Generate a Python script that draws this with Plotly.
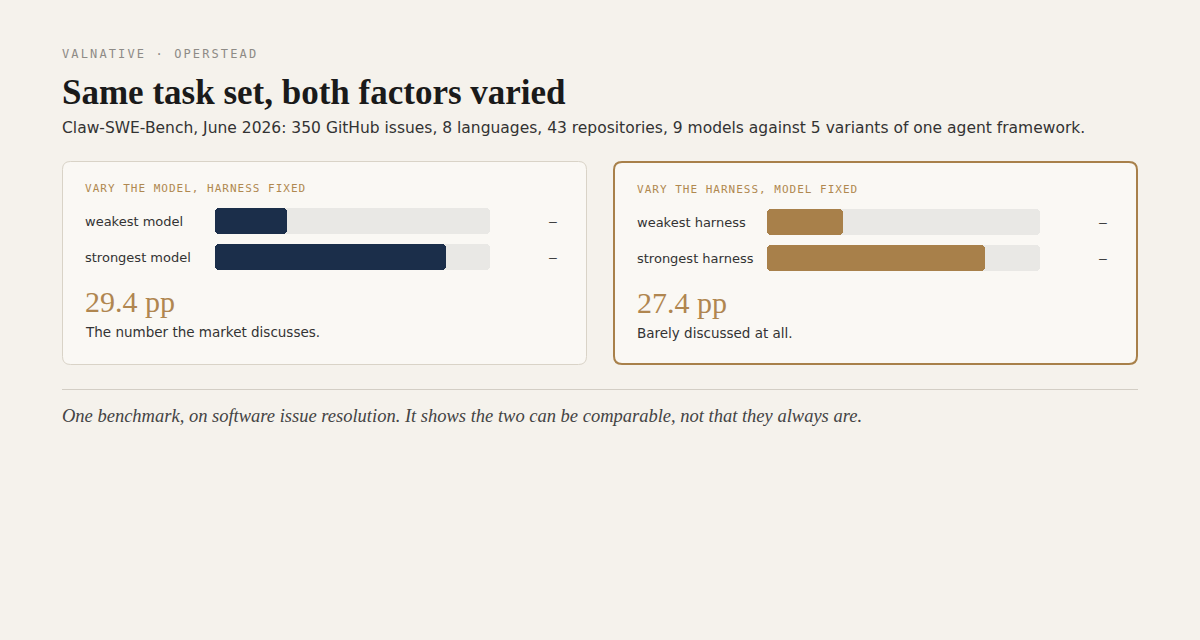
import plotly.graph_objects as go

# bar lengths (percent of the track)
model_rows = ["weakest model", "strongest model"]
model_vals = [26.2, 84.0]
harness_rows = ["weakest harness", "strongest harness"]
harness_vals = [27.8, 79.9]
value_labels = ["–", "–"]  # the source shows dashes instead of numbers
track_max = 100

model_spread = "29.4 pp"
harness_spread = "27.4 pp"
model_note = "The number the market discusses."
harness_note = "Barely discussed at all."

W, H = 1200, 640
BG = "#f5f2ec"
CARD = "#faf8f4"
NAVY = "#1b2e4a"
GOLD = "#a8804a"
TRACK = "#e9e8e5"
INK = "#333333"


def px(x):
    return x / W


def py(y):
    return 1 - y / H


def spaced(text, gap):
    # fake css letter-spacing with tiny mono spaces between characters
    sp = '<span style="font-size:%.2fpx"> </span>' % (gap / 0.602)
    return sp.join(text)


def rounded_rect(x0, y0, x1, y1, r):
    pts = [
        ("M", x0 + r, y0), ("L", x1 - r, y0), ("Q", x1, y0, x1, y0 + r),
        ("L", x1, y1 - r), ("Q", x1, y1, x1 - r, y1), ("L", x0 + r, y1),
        ("Q", x0, y1, x0, y1 - r), ("L", x0, y0 + r), ("Q", x0, y0, x0 + r, y0),
    ]
    out = ""
    for p in pts:
        coords = p[1:]
        s = []
        for i in range(0, len(coords), 2):
            s.append("%.5f,%.5f" % (px(coords[i]), py(coords[i + 1])))
        out += p[0] + " " + " ".join(s) + " "
    return out + "Z"


def pill(fig, rows, vals, color, n):
    fig.add_trace(go.Bar(y=rows, x=vals, base=[0] * len(vals),
                         orientation="h", width=0.72, marker=dict(color=color, cornerradius=4, line_width=0),
                         xaxis="x" + n, yaxis="y" + n, hoverinfo="skip", showlegend=False, cliponaxis=False))


fig = go.Figure()
pill(fig, model_rows, [track_max] * len(model_rows), TRACK, "2")
pill(fig, model_rows, model_vals, NAVY, "2")
pill(fig, harness_rows, [track_max] * len(harness_rows), TRACK, "3")
pill(fig, harness_rows, harness_vals, GOLD, "3")

hidden = dict(visible=False, fixedrange=True)
fig.update_layout(
    width=W, height=H, margin=dict(l=0, r=0, t=0, b=0),
    paper_bgcolor=BG, plot_bgcolor="rgba(0,0,0,0)",
    barmode="overlay", bargap=0, showlegend=False,
    xaxis2=dict(domain=[px(215), px(490)], range=[0, track_max], anchor="y2", **hidden),
    yaxis2=dict(domain=[py(275), py(203)], range=[1.5, -0.5], anchor="x2", **hidden),
    xaxis3=dict(domain=[px(767), px(1040)], range=[0, track_max], anchor="y3", **hidden),
    yaxis3=dict(domain=[py(276), py(204)], range=[1.5, -0.5], anchor="x3", **hidden),
)

# cards and divider
fig.add_shape(type="path", xref="paper", yref="paper", path=rounded_rect(62.5, 161.5, 586.5, 364.5, 8),
              fillcolor=CARD, line=dict(color="#d9d3c7", width=1), layer="below")
fig.add_shape(type="path", xref="paper", yref="paper", path=rounded_rect(614, 162, 1137, 364, 8),
              fillcolor=CARD, line=dict(color="#a8804a", width=2), layer="below")
fig.add_shape(type="line", xref="paper", yref="paper", x0=px(62), x1=px(1138), y0=py(389.5), y1=py(389.5),
              line=dict(color="#d3cec5", width=1))

sans = "DejaVu Sans"
mono = "DejaVu Sans Mono"
serif = "Liberation Serif"


def note(x, y, text, size, color, family, anchor="left"):
    # annotations carry ~2px of padding; shift so the glyphs land on x
    fig.add_annotation(xref="paper", yref="paper", x=px(x - 2 if anchor == "left" else x + 2), y=py(y),
                       text=text, showarrow=False, xanchor=anchor, yanchor="middle", align=anchor,
                       font=dict(size=size, color=color, family=family))


note(62, 54, spaced("VALNATIVE · OPERSTEAD", 2.1), 12, "#8e8b86", mono)
note(61.5, 93, "<b>Same task set, both factors varied</b>", 35, "#1a1a1a", serif)
note(62, 127.5, "Claw-SWE-Bench, June 2026: 350 GitHub issues, 8 languages, 43 repositories, "
     "9 models against 5 variants of one agent framework.", 15.5, INK, sans)

cards = [
    (85, 0, "VARY THE MODEL, HARNESS FIXED", model_rows, model_spread, model_note, 557, 221, 36),
    (637, 1, "VARY THE HARNESS, MODEL FIXED", harness_rows, harness_spread, harness_note, 1107, 222, 36),
]
for x, off, head, rows, spread, caption, vx, ry, step in cards:
    note(x, 188.5 + off, spaced(head, 1.0), 11, "#b08850", mono)
    for i, row in enumerate(rows):
        note(x, ry + i * step, row, 13, INK, sans)
        note(vx, ry + i * step, value_labels[i], 13, INK, mono, anchor="right")
    note(x - 0.5, 301.5 + off, spread, 30, "#b08650", serif)
    note(x, 332 + off, caption, 13.5, INK, sans)

note(62, 415.5, "<i>One benchmark, on software issue resolution. It shows the two can be comparable, "
     "not that they always are.</i>", 18.5, "#444444", serif)

fig.write_html("out.html", config={"displayModeBar": False},
               post_script="document.body.style.margin='0';")
